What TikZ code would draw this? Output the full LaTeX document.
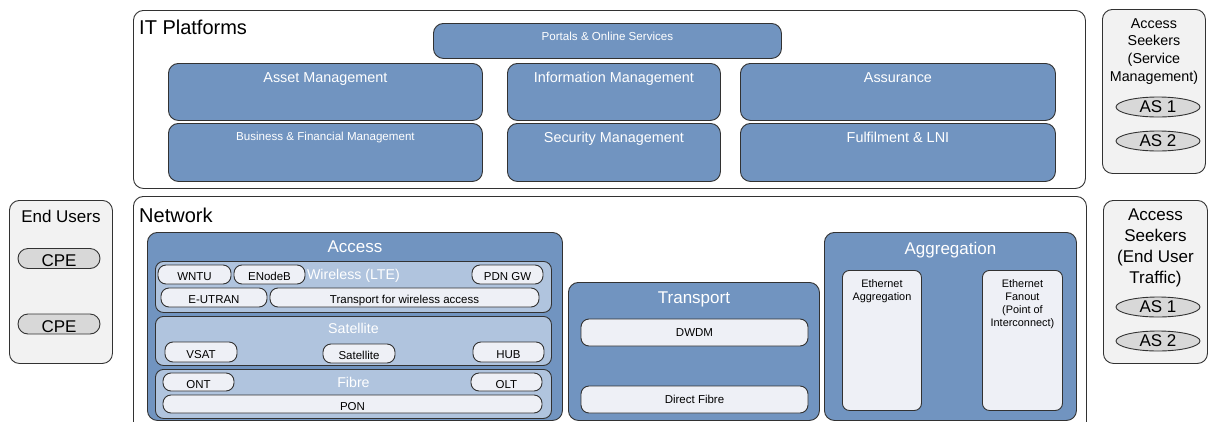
\documentclass[tikz,border=0pt]{standalone}
\usepackage{fontspec}
\setmainfont{Liberation Sans}
\usetikzlibrary{shapes.geometric}

\definecolor{blueC}{RGB}{113,148,192}
\definecolor{paleC}{RGB}{176,196,222}
\definecolor{pillC}{RGB}{238,240,246}
\definecolor{greyC}{RGB}{242,242,242}
\definecolor{ovalC}{RGB}{216,216,216}
\definecolor{lineC}{RGB}{50,50,50}
\newcommand\fsz[2]{\fontsize{#1}{#2}\selectfont}

\begin{document}
\begin{tikzpicture}[x=1pt,y=-1pt,
  every node/.style={inner sep=0pt},
  frame/.style={draw=lineC, line width=0.9pt, rounded corners=10pt, fill=white, anchor=north west},
  blublk/.style={frame, fill=blueC},
  panel/.style={frame, fill=paleC, rounded corners=8pt},
  seek/.style={frame, fill=greyC},
  lite/.style={frame, fill=pillC, rounded corners=7pt},
  pill/.style={draw=lineC, line width=0.9pt, rounded corners=8pt, fill=pillC,
    font=\fsz{11.5}{13}, text height=12pt, text depth=0pt},
  cpe/.style={draw=lineC, line width=0.9pt, rounded corners=10pt, fill=ovalC,
    minimum width=82, minimum height=20, font=\fsz{17}{20}, text height=16pt, text depth=0pt},
  oval/.style={ellipse, draw=lineC, line width=0.9pt, fill=ovalC, font=\fsz{17}{20}},
  ttl/.style={anchor=north, inner sep=0pt, yshift=-#1, text=white},
  blk/.style={anchor=north, inner sep=0pt, yshift=-#1, text=black, align=center}
]
  \useasboundingbox (0,0) rectangle (1211,421);
  \clip (0,0) rectangle (1211,421);

  % IT platforms
  \node[frame, minimum width=952, minimum height=178,
    label={[anchor=north west, xshift=6, yshift=-10, font=\fsz{20}{24}]north west:IT Platforms}] (itp) at (133,10) {};
  \node[blublk, minimum width=348, minimum height=35,
    label={[ttl=9pt, font=\fsz{11.6}{14}]north:Portals \& Online Services}] (portal) at (433,23) {};
  \node[blublk, minimum width=314, minimum height=57,
    label={[ttl=9pt, font=\fsz{14.4}{17}]north:Asset Management}] (asset) at (168,63) {};
  \node[blublk, minimum width=314, minimum height=58,
    label={[ttl=9pt, font=\fsz{11.6}{14}]north:Business \& Financial Management}] (busfin) at (168,123) {};
  \node[blublk, minimum width=213, minimum height=57,
    label={[ttl=9pt, font=\fsz{14.4}{17}]north:Information Management}] (infom) at (507,63) {};
  \node[blublk, minimum width=213, minimum height=58,
    label={[ttl=9pt, font=\fsz{14.4}{17}]north:Security Management}] (secm) at (507,123) {};
  \node[blublk, minimum width=315, minimum height=57,
    label={[ttl=9pt, font=\fsz{14.4}{17}]north:Assurance}] (assur) at (740,63) {};
  \node[blublk, minimum width=315, minimum height=58,
    label={[ttl=9pt, font=\fsz{14.4}{17}]north:Fulfilment \& LNI}] (fulfil) at (740,123) {};

  % access seekers
  \node[seek, minimum width=103, minimum height=164,
    label={[blk=9pt, font=\fsz{14.3}{17.7}]north:Access\\Seekers\\(Service\\Management)}] (asm) at (1102,9) {};
  \node[oval, minimum width=84, minimum height=20] (asm1) at (1158,107) {AS 1};
  \node[oval, minimum width=84, minimum height=20] (asm2) at (1158,141) {AS 2};
  \node[seek, minimum width=104, minimum height=163,
    label={[blk=9pt, font=\fsz{17}{21}]north:Access\\Seekers\\(End User\\Traffic)}] (aseu) at (1103,200) {};
  \node[oval, minimum width=84, minimum height=20] (aseu1) at (1158,307) {AS 1};
  \node[oval, minimum width=84, minimum height=20] (aseu2) at (1158,341) {AS 2};

  % end users
  \node[seek, minimum width=103, minimum height=163,
    label={[blk=10pt, font=\fsz{17}{21}]north:End Users}] (endu) at (9,200) {};
  \node[cpe] (cpe1) at (59,258.5) {CPE};
  \node[cpe] (cpe2) at (59,324) {CPE};

  % network
  \node[frame, minimum width=953, minimum height=260,
    label={[anchor=north west, xshift=6, yshift=-12, font=\fsz{20}{24}]north west:Network}] (net) at (133,196) {};

  \node[blublk, minimum width=415, minimum height=188,
    label={[ttl=9pt, font=\fsz{17}{20}]north:Access}] (access) at (147,232) {};
  \node[panel, minimum width=396, minimum height=51,
    label={[ttl=8pt, font=\fsz{14.2}{17}]north:Wireless (LTE)}] (wless) at (155,261) {};
  \node[pill, minimum width=73, minimum height=19] (wntu) at (194.5,274.5) {WNTU};
  \node[pill, minimum width=71, minimum height=19] (enodeb) at (269.5,274.5) {ENodeB};
  \node[pill, minimum width=71, minimum height=19] (pdngw) at (507.5,274.5) {PDN GW};
  \node[pill, minimum width=106, minimum height=19] (eutran) at (214,297.5) {E-UTRAN};
  \node[pill, minimum width=269, minimum height=19] (twa) at (404.5,297.5) {Transport for wireless access};
  \node[panel, minimum width=396, minimum height=49,
    label={[ttl=7pt, font=\fsz{14.2}{17}]north:Satellite}] (sat) at (155,316) {};
  \node[pill, minimum width=72, minimum height=20] (vsat) at (201,352) {VSAT};
  \node[pill, minimum width=72, minimum height=19] (satn) at (359,353.5) {Satellite};
  \node[pill, minimum width=71, minimum height=20] (hub) at (508.5,352) {HUB};
  \node[panel, minimum width=396, minimum height=49,
    label={[ttl=8pt, font=\fsz{14.2}{17}]north:Fibre}] (fibre) at (155,369) {};
  \node[pill, minimum width=71, minimum height=18] (ont) at (198.5,382) {ONT};
  \node[pill, minimum width=71, minimum height=18] (olt) at (506.5,382) {OLT};
  \node[pill, minimum width=379, minimum height=18] (pon) at (352.5,404) {PON};

  \node[blublk, minimum width=251, minimum height=138,
    label={[ttl=10pt, font=\fsz{17}{20}]north:Transport}] (transp) at (568,282) {};
  \node[pill, text height=8pt, minimum width=227, minimum height=27] (dwdm) at (694.5,332.5) {DWDM};
  \node[pill, text height=8pt, minimum width=227, minimum height=27] (dfibre) at (694.5,399.5) {Direct Fibre};

  \node[blublk, minimum width=252, minimum height=188,
    label={[ttl=10pt, font=\fsz{17}{20}]north:Aggregation}] (aggr) at (824,232) {};
  \node[lite, minimum width=79, minimum height=140,
    label={[blk=9pt, font=\fsz{10.9}{13}]north:Ethernet\\Aggregation}] (ethagg) at (842,270) {};
  \node[lite, minimum width=80, minimum height=140,
    label={[blk=9pt, font=\fsz{10.9}{13}]north:Ethernet\\Fanout\\(Point of\\Interconnect)}] (ethfan) at (982,270) {};
\end{tikzpicture}
\end{document}
